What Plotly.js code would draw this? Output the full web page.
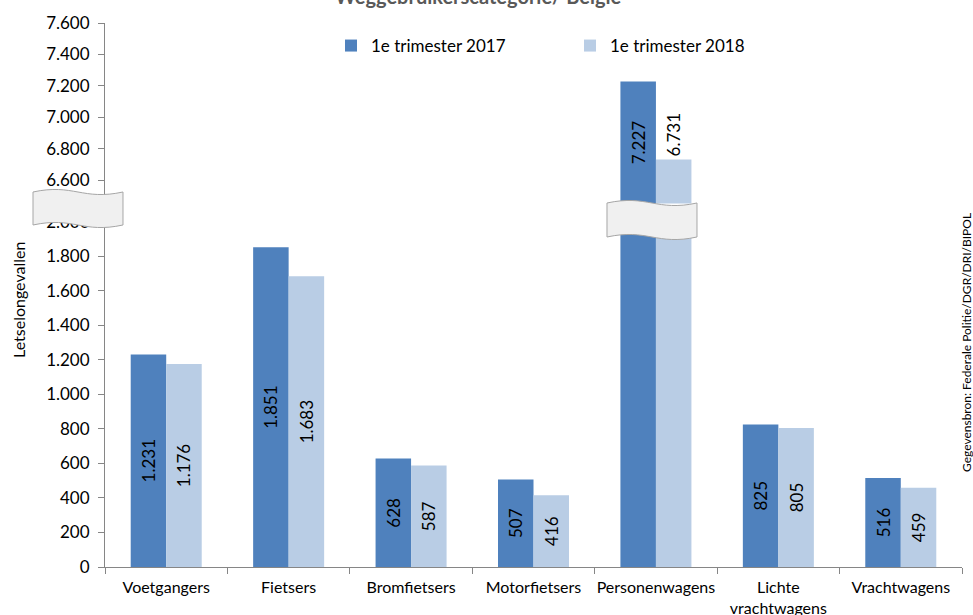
<!DOCTYPE html>
<html>
<head>
<meta charset="utf-8">
<script src="https://cdn.plot.ly/plotly-3.0.1.min.js"></script>
<style>html,body{margin:0;padding:0;background:#fff;}#chart{width:973px;height:615px;}</style>
</head>
<body>
<div id="chart"></div>
<script>
const categories = ["Voetgangers", "Fietsers", "Bromfietsers", "Motorfietsers", "Personenwagens", "Lichte<br>vrachtwagens", "Vrachtwagens"];
const series2017 = [1231, 1851, 628, 507, 7227, 825, 516];
const series2018 = [1176, 1683, 587, 416, 6731, 805, 459];
const seriesNames = ["1e trimester 2017", "1e trimester 2018"];
const lowerTicks = [0, 200, 400, 600, 800, 1000, 1200, 1400, 1600, 1800, 2000];
const upperTicks = [6600, 6800, 7000, 7200, 7400, 7600];
const breakIndex = 4;          // category drawn with a broken axis
const lowerMax = 2000;
const upperBase = 6450;

const colDark = "#4f81bd", colLight = "#b9cde5";
const FONT = "Lato, 'Liberation Sans', sans-serif";

function fmt(v){ return String(v).replace(/\B(?=(\d{3})+(?!\d))/g, "."); }

// plot geometry (pixels)
const W = 973, H = 615, ML = 105, MR = 11, MT = 23, MB = 48;
const PW = W - ML - MR, PH = H - MT - MB;
const lowerDomTop = 0.635;
const upperPxPerUnit = 0.157;
const upperSpanPx = PH * (1 - lowerDomTop);
const upperMin = 7600 - upperSpanPx / upperPxPerUnit;

function lowerText(arr){ return arr.map((v,i)=> (i===breakIndex ? "" : fmt(v))); }
function upperY(arr){ return arr.map((v,i)=> (i===breakIndex ? v - upperBase : null)); }
function upperText(arr){ return arr.map((v,i)=> (i===breakIndex ? fmt(v) : "")); }

const textFont = {family: FONT, size: 17, color: "#000"};

const traces = [
  {type:"bar", name:seriesNames[0], x:categories, y:series2017, yaxis:"y", xaxis:"x",
   marker:{color:colDark}, text:lowerText(series2017), textposition:"inside", textangle:-90,
   insidetextanchor:"middle", constraintext:"none", textfont:textFont, insidetextfont:textFont, hoverinfo:"skip", legendgroup:"a"},
  {type:"bar", name:seriesNames[1], x:categories, y:series2018, yaxis:"y", xaxis:"x",
   marker:{color:colLight}, text:lowerText(series2018), textposition:"inside", textangle:-90,
   insidetextanchor:"middle", constraintext:"none", textfont:textFont, insidetextfont:textFont, hoverinfo:"skip", legendgroup:"b"},
  {type:"bar", name:seriesNames[0], x:categories, y:upperY(series2017), base:upperBase, yaxis:"y2", xaxis:"x",
   marker:{color:colDark}, text:upperText(series2017), textposition:"inside", textangle:-90,
   insidetextanchor:"middle", constraintext:"none", textfont:textFont, insidetextfont:textFont, showlegend:false, hoverinfo:"skip", legendgroup:"a"},
  {type:"bar", name:seriesNames[1], x:categories, y:upperY(series2018), base:upperBase, yaxis:"y2", xaxis:"x",
   marker:{color:colLight}, text:upperText(series2018), textposition:"outside", textangle:-90,
   constraintext:"none", textfont:textFont, outsidetextfont:textFont, showlegend:false, hoverinfo:"skip", cliponaxis:false, legendgroup:"b"}
];

const px = x => (x - ML) / PW;
const py = y => (H - MB - y) / PH;

function wavePath(x0, x1, yTopL, yTopR, h, amp){
  const xm1 = x0 + (x1 - x0) * 0.45, xm2 = x0 + (x1 - x0) * 0.55;
  const P = (x,y) => px(x).toFixed(5) + "," + py(y).toFixed(5);
  return "M" + P(x0, yTopL) +
    " C" + P(xm1, yTopL - amp*2.2) + " " + P(xm2, yTopR + amp*2.2) + " " + P(x1, yTopR) +
    " L" + P(x1, yTopR + h) +
    " C" + P(xm2, yTopR + h + amp*2.2) + " " + P(xm1, yTopL + h - amp*2.2) + " " + P(x0, yTopL + h) + " Z";
}

const axisCol = "#868686";
const tickFont = {family: FONT, size: 17, color: "#000"};

const layout = {
  width: W, height: H,
  margin: {l: ML, r: MR, t: MT, b: MB, pad: 0},
  paper_bgcolor: "#fff", plot_bgcolor: "#fff",
  separators: ",.",
  barmode: "group", bargap: 0.42, bargroupgap: 0,
  font: {family: FONT, size: 16, color: "#000"},
  showlegend: true,
  legend: {orientation: "h", x: px(331), xanchor: "left", y: py(28), yanchor: "top",
           entrywidth: 194, entrywidthmode: "pixels", font: {family: FONT, size: 17, color: "#000"},
           bgcolor: "rgba(0,0,0,0)", traceorder: "normal"},
  xaxis: {type: "category", tickson: "boundaries", ticks: "outside", ticklen: 6, tickcolor: axisCol,
          tickangle: 0, ticklabelstandoff: 6, showline: true, linecolor: axisCol, linewidth: 1, showgrid: false, zeroline: false,
          tickfont: {family: FONT, size: 16, color: "#000"}, anchor: "y", fixedrange: true},
  yaxis: {domain: [0, lowerDomTop], range: [0, lowerMax], tickvals: lowerTicks, tickformat: ",d",
          ticks: "outside", ticklen: 6, tickcolor: axisCol, showline: true, linecolor: axisCol, ticklabelstandoff: 5,
          showgrid: false, zeroline: false, tickfont: tickFont, anchor: "x", fixedrange: true},
  yaxis2: {domain: [lowerDomTop, 1], range: [upperMin, 7600], tickvals: upperTicks, tickformat: ",d",
          ticks: "outside", ticklen: 6, tickcolor: axisCol, showline: true, linecolor: axisCol, ticklabelstandoff: 5,
          showgrid: false, zeroline: false, tickfont: tickFont, anchor: "x", fixedrange: true},
  shapes: [
    {type: "path", xref: "paper", yref: "paper", layer: "above",
     path: wavePath(33, 123, 192, 192, 33, 4), fillcolor: "#f0f0f0", line: {color: "#a6a6a6", width: 1}},
    {type: "path", xref: "paper", yref: "paper", layer: "above",
     path: wavePath(607, 697, 203, 203, 34, 4), fillcolor: "#f0f0f0", line: {color: "#a6a6a6", width: 1}}
  ],
  annotations: [
    {text: "<b>Weggebruikerscategorie/ België</b>", xref: "paper", yref: "paper", x: px(478), y: py(-4),
     xanchor: "center", yanchor: "middle", showarrow: false, font: {family: FONT, size: 20, color: "#595959"}},
    {text: "Letselongevallen", xref: "paper", yref: "paper", x: px(18), y: py(300), textangle: -90,
     xanchor: "center", yanchor: "middle", showarrow: false, font: {family: FONT, size: 16, color: "#000"}},
    {text: "Gegevensbron: Federale Politie/DGR/DRI/BIPOL", xref: "paper", yref: "paper", x: px(966), y: py(343),
     textangle: -90, xanchor: "center", yanchor: "middle", showarrow: false, font: {family: FONT, size: 12, color: "#000"}}
  ]
};

Plotly.newPlot("chart", traces, layout, {displayModeBar: false, staticPlot: true});
</script>
</body>
</html>
